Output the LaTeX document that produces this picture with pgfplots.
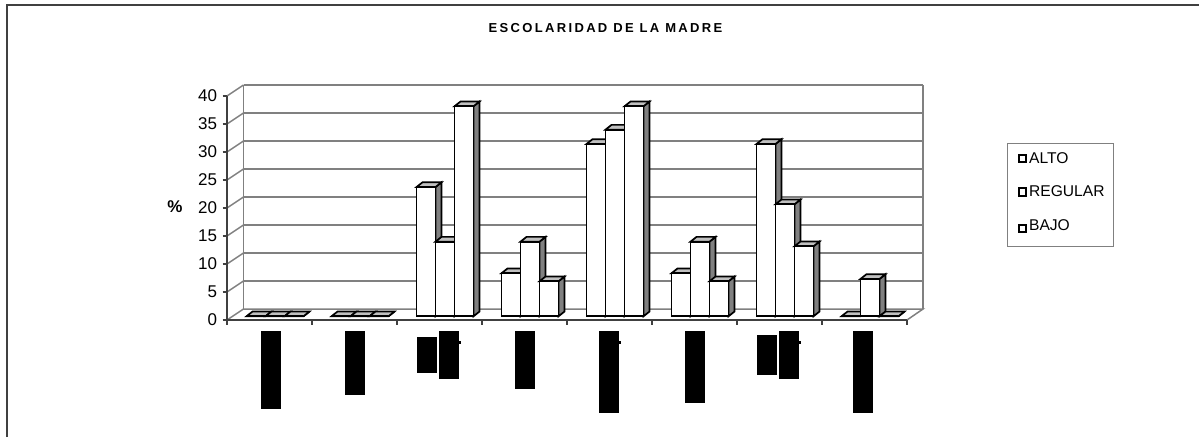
\documentclass[border=0pt]{standalone}
\usepackage{fontspec}
\setmainfont{Liberation Sans}
\newfontfamily\titlefont[LetterSpace=18]{Liberation Sans}
\usepackage{pgfplots}
\pgfplotsset{compat=1.18}
\definecolor{wallgray}{HTML}{808080}
\definecolor{topgray}{HTML}{C0C0C0}
\definecolor{axisdark}{HTML}{404040}
% one 3-D column: category (0-based), series (0,1,2), value in %
\newcommand{\tdbar}[3]{%
  \pgfmathsetmacro\xl{#1+0.5+0.0647+(#2-1.5)*0.2235}%
  \pgfmathsetmacro\xr{\xl+0.2235}%
  \pgfmathsetmacro\xlb{\xl+0.0706}%
  \pgfmathsetmacro\xrb{\xr+0.0706}%
  \pgfmathsetmacro\yb{0.66}%
  \pgfmathsetmacro\yt{0.66+#3}%
  \pgfmathsetmacro\ybb{\yb+0.85}%
  \pgfmathsetmacro\ytb{\yt+0.85}%
  \addplot[forget plot,draw=black,line width=1.7pt,fill=wallgray] coordinates {(\xr,\yb)(\xrb,\ybb)(\xrb,\ytb)(\xr,\yt)} --cycle;
  \addplot[forget plot,draw=black,line width=1.7pt,fill=topgray] coordinates {(\xl,\yt)(\xlb,\ytb)(\xrb,\ytb)(\xr,\yt)} --cycle;
  \addplot[forget plot,draw=black,line width=1.7pt,fill=white] coordinates {(\xl,\yb)(\xl,\yt)(\xr,\yt)(\xr,\yb)} --cycle;
}
\newcommand{\blk}[4]{\addplot[forget plot,draw=none,fill=black] coordinates {(#1,#3)(#2,#3)(#2,#4)(#1,#4)} --cycle;}
\begin{document}
\begin{tikzpicture}
\path[use as bounding box] (0,0) rectangle (1199pt,437pt);
% overlay in picture pixels: frame, walls, masked category labels
\begin{axis}[at={(0,0)},anchor=south west,scale only axis,width=1199pt,height=437pt,
  xmin=0,xmax=1199,ymin=0,ymax=437,y dir=reverse,hide axis,clip=false]
\addplot[forget plot,draw=axisdark,line width=2pt] coordinates {(6.5,437)(6.5,4.5)(1199,4.5)};
% back wall grid
\addplot[forget plot,draw=wallgray,line width=1.5pt] coordinates {(243.5,85)(923,85)};
\addplot[forget plot,draw=wallgray,line width=1.5pt] coordinates {(243.5,113)(923,113)};
\addplot[forget plot,draw=wallgray,line width=1.5pt] coordinates {(243.5,141)(923,141)};
\addplot[forget plot,draw=wallgray,line width=1.5pt] coordinates {(243.5,169)(923,169)};
\addplot[forget plot,draw=wallgray,line width=1.5pt] coordinates {(243.5,197)(923,197)};
\addplot[forget plot,draw=wallgray,line width=1.5pt] coordinates {(243.5,225)(923,225)};
\addplot[forget plot,draw=wallgray,line width=1.5pt] coordinates {(243.5,253)(923,253)};
\addplot[forget plot,draw=wallgray,line width=1.5pt] coordinates {(243.5,281)(923,281)};
\addplot[forget plot,draw=wallgray,line width=1.5pt] coordinates {(227,320)(243.5,309)(923,309)(907,320)};
\addplot[forget plot,draw=wallgray,line width=1.5pt] coordinates {(243.5,309)(243.5,85)};
\addplot[forget plot,draw=wallgray,line width=1.5pt] coordinates {(923,309)(923,85)};
\addplot[forget plot,draw=wallgray,line width=1.5pt] coordinates {(227,96)(243.5,85)};
\addplot[forget plot,draw=wallgray,line width=1.5pt] coordinates {(227,124)(243.5,113)};
\addplot[forget plot,draw=wallgray,line width=1.5pt] coordinates {(227,152)(243.5,141)};
\addplot[forget plot,draw=wallgray,line width=1.5pt] coordinates {(227,180)(243.5,169)};
\addplot[forget plot,draw=wallgray,line width=1.5pt] coordinates {(227,208)(243.5,197)};
\addplot[forget plot,draw=wallgray,line width=1.5pt] coordinates {(227,236)(243.5,225)};
\addplot[forget plot,draw=wallgray,line width=1.5pt] coordinates {(227,264)(243.5,253)};
\addplot[forget plot,draw=wallgray,line width=1.5pt] coordinates {(227,292)(243.5,281)};
% masked labels
\blk{261}{281}{331}{409}
\blk{345}{365}{331}{395}
\blk{417}{437}{337}{373}
\blk{439}{459}{331}{379}
\blk{515}{535}{331}{389}
\blk{599}{619}{331}{413}
\blk{685}{705}{331}{403}
\blk{757}{777}{335}{375}
\blk{779}{799}{331}{379}
\blk{853}{873}{331}{413}
\blk{459}{460.5}{340.5}{343.5}
\blk{619}{620.5}{340.5}{343.5}
\blk{799}{800.5}{340.5}{343.5}
\node[anchor=center,font=\titlefont\bfseries\fontsize{13}{15}\selectfont] at (axis cs:605.5,28) {ESCOLARIDAD DE LA MADRE};
\node[anchor=center,font=\bfseries\fontsize{17}{19}\selectfont] at (axis cs:175,207) {\%};
\end{axis}
% data axis: front plane of the chart
\begin{axis}[at={(227pt,117pt)},anchor=south west,scale only axis,width=680pt,height=224pt,
  xmin=0,xmax=8,ymin=0,ymax=40,clip=false,
  axis x line=bottom,axis y line=left,
  axis line style={-,draw=axisdark,line width=1.7pt},
  xtick={0,1,2,3,4,5,6,7,8},xticklabels={},
  ytick={0,5,10,15,20,25,30,35,40},
  tick align=outside,
  tick style={draw=axisdark,line width=1.4pt},
  major tick length=4.5pt,
  yticklabel style={font=\fontsize{17}{19}\selectfont,/pgf/number format/assume math mode=true,xshift=-2pt},
  legend style={at={(1.147,0.7915)},anchor=north west,draw=wallgray,line width=1.3pt,
    font=\fontsize{15.6}{18}\selectfont,inner xsep=7pt,inner ysep=7pt,row sep=17pt,
    /tikz/every even column/.append style={column sep=7pt}},
  legend cell align=left,
  legend image code/.code={\path[draw=none] (0pt,0pt) -- (4pt,0pt);\draw[draw=black,line width=2pt,fill=white] (4pt,-3.8pt) rectangle (11.5pt,3.8pt);}
]
\tdbar{0}{0}{0}\tdbar{0}{1}{0}\tdbar{0}{2}{0}
\tdbar{1}{0}{0}\tdbar{1}{1}{0}\tdbar{1}{2}{0}
\tdbar{2}{0}{23.08}\tdbar{2}{1}{13.33}\tdbar{2}{2}{37.5}
\tdbar{3}{0}{7.69}\tdbar{3}{1}{13.33}\tdbar{3}{2}{6.25}
\tdbar{4}{0}{30.77}\tdbar{4}{1}{33.33}\tdbar{4}{2}{37.5}
\tdbar{5}{0}{7.69}\tdbar{5}{1}{13.33}\tdbar{5}{2}{6.25}
\tdbar{6}{0}{30.77}\tdbar{6}{1}{20}\tdbar{6}{2}{12.5}
\tdbar{7}{0}{0}\tdbar{7}{1}{6.67}\tdbar{7}{2}{0}
\addlegendimage{black}\addlegendentry{ALTO}
\addlegendimage{black}\addlegendentry{REGULAR}
\addlegendimage{legend image code/.code={\path[draw=none] (0pt,-9.8pt) -- (4pt,-9.8pt);\draw[draw=black,line width=2pt,fill=white] (4pt,-3.8pt) rectangle (11.5pt,3.8pt);}}\addlegendentry[text depth=7.5pt]{BAJO}
\end{axis}
\end{tikzpicture}
\end{document}
